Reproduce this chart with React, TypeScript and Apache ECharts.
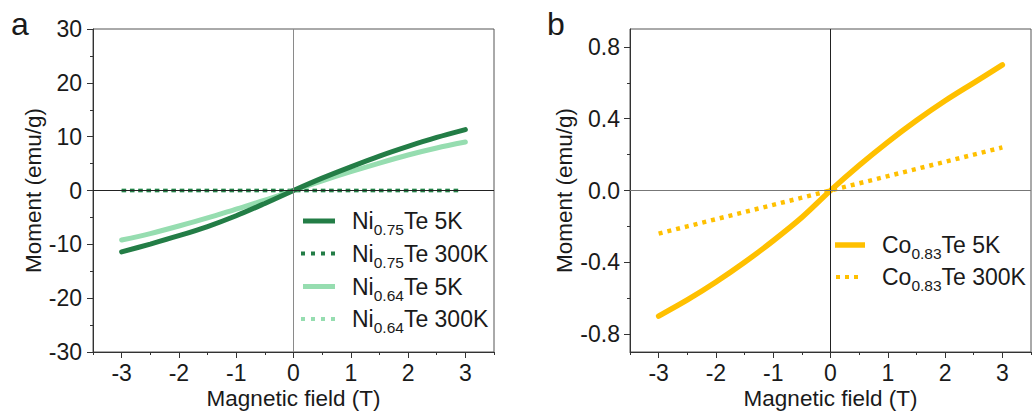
import React, { useEffect, useRef } from "react";
import * as echarts from "echarts";

const FONT = "'Liberation Sans', Arial, sans-serif";

// Magnetic field (T)
const fieldT = [-3, -2.5, -2, -1.5, -1, -0.5, 0, 0.5, 1, 1.5, 2, 2.5, 3];
const field300 = [-3, -2, -1, 0, 1, 2, 2.9];

// Panel a (emu/g)
const ni075_5K = [-11.4, -9.95, -8.4, -6.7, -4.7, -2.4, 0, 2.3, 4.4, 6.4, 8.2, 9.85, 11.3];
const ni064_5K = [-9.2, -8.0, -6.6, -5.1, -3.45, -1.8, 0, 1.8, 3.5, 5.1, 6.6, 7.9, 9.0];
const ni075_300K = [0, 0, 0, 0, 0, 0, 0];
const ni064_300K = [0, 0, 0, 0, 0, 0, 0];

// Panel b (emu/g)
const co083_5K = [-0.70, -0.61, -0.51, -0.40, -0.28, -0.15, 0, 0.14, 0.27, 0.39, 0.50, 0.60, 0.70];
const co083_300K = [-0.24, -0.20, -0.16, -0.12, -0.08, -0.04, 0, 0.04, 0.08, 0.12, 0.16, 0.20, 0.24];

// Tick values
const xMajor = [-3, -2, -1, 0, 1, 2, 3];
const yMajorB = [-0.8, -0.4, 0, 0.4, 0.8];
const yMinorB = [-0.6, -0.2, 0.2, 0.6];

const DARK = "#237d46";
const LIGHT = "#96ddb0";
const GOLD = "#ffc000";
const AX = "#333";
const TXT = "#1a1a1a";
const TICK_FS = 23;
const TITLE_FS = 22.5;

const zip = (xs: number[], ys: number[]) => xs.map((x, i) => [x, ys[i]]);

function xAxes(grid: number) {
  return [
    {
      gridIndex: grid,
      type: "value",
      position: "bottom",
      min: -3.5,
      max: 3.5,
      interval: 0.5,
      axisLine: { show: true, onZero: false, lineStyle: { color: AX, width: 1 } },
      axisTick: { show: true, length: 3, lineStyle: { color: AX } },
      axisLabel: { show: false },
      splitLine: { show: false },
      name: "Magnetic field (T)",
      nameLocation: "middle",
      nameGap: 35,
      nameTextStyle: { fontSize: TITLE_FS, color: TXT, fontFamily: FONT },
    },
    {
      gridIndex: grid,
      type: "value",
      position: "bottom",
      offset: 0,
      min: -3.5,
      max: 3.5,
      axisLine: { show: false, onZero: false },
      axisTick: { show: true, length: 6, customValues: xMajor, lineStyle: { color: AX } },
      axisLabel: { show: true, customValues: xMajor, fontSize: TICK_FS, color: TXT, margin: 9, fontFamily: FONT },
      splitLine: { show: false },
    },
  ];
}

function legendRow(x: number, y: number, color: string, dotted: boolean, width: number, sym: string, sub: string, rest: string, iconX: number, iconW: number, dash: number[]) {
  return [
    {
      type: "line",
      shape: { x1: iconX, y1: y, x2: iconX + iconW, y2: y },
      style: dotted
        ? { stroke: color, lineWidth: 4, lineDash: dash }
        : { stroke: color, lineWidth: width },
      silent: true,
    },
    {
      type: "text",
      x: x,
      y: y,
      silent: true,
      style: {
        text: `{m|${sym}}{s|${sub}}{m|${rest}}`,
        verticalAlign: "middle",
        align: "left",
        fill: TXT,
        rich: {
          m: { fontSize: 23, fontFamily: FONT, fill: TXT },
          s: { fontSize: 15.5, fontFamily: FONT, fill: TXT, padding: [17, 0, 0, 0] },
        },
      },
    },
  ];
}

export default function App() {
  const ref = useRef<HTMLDivElement>(null);
  useEffect(() => {
    if (!ref.current) return;
    const chart = echarts.init(ref.current, undefined, { renderer: "svg" });
    const option: any = {
      animation: false,
      backgroundColor: "#ffffff",
      textStyle: { fontFamily: FONT },
      grid: [
        { left: 93, top: 29, width: 401, height: 323, show: true, borderColor: "#555", borderWidth: 1, backgroundColor: "transparent" },
        { left: 630, top: 29, width: 401, height: 323, show: true, borderColor: "#555", borderWidth: 1, backgroundColor: "transparent" },
      ],
      xAxis: [...xAxes(0), ...xAxes(1)],
      yAxis: [
        {
          gridIndex: 0,
          type: "value",
          position: "left",
          min: -30,
          max: 30,
          interval: 10,
          axisLine: { show: true, onZero: false, lineStyle: { color: AX } },
          axisTick: { show: true, length: 6, lineStyle: { color: AX } },
          minorTick: { show: true, splitNumber: 2, length: 3, lineStyle: { color: AX } },
          axisLabel: { fontSize: TICK_FS, color: TXT, margin: 11, fontFamily: FONT },
          splitLine: { show: false },
          minorSplitLine: { show: false },
          name: "Moment (emu/g)",
          nameLocation: "middle",
          nameGap: 47,
          nameTextStyle: { fontSize: TITLE_FS, color: TXT, fontFamily: FONT },
        },
        {
          gridIndex: 1,
          type: "value",
          position: "left",
          min: -0.9,
          max: 0.9,
          axisLine: { show: true, onZero: false, lineStyle: { color: AX } },
          axisTick: { show: true, length: 6, customValues: yMajorB, lineStyle: { color: AX } },
          axisLabel: {
            customValues: yMajorB,
            fontSize: TICK_FS,
            color: TXT,
            margin: 10,
            fontFamily: FONT,
            formatter: (v: number) => v.toFixed(1),
          },
          splitLine: { show: false },
          name: "Moment (emu/g)",
          nameLocation: "middle",
          nameGap: 52,
          nameTextStyle: { fontSize: TITLE_FS, color: TXT, fontFamily: FONT },
        },
        {
          gridIndex: 1,
          type: "value",
          position: "left",
          offset: 0,
          min: -0.9,
          max: 0.9,
          axisLine: { show: false, onZero: false },
          axisTick: { show: true, length: 3, customValues: yMinorB, lineStyle: { color: AX } },
          axisLabel: { show: false },
          splitLine: { show: false },
        },
      ],
      series: [
        {
          name: "Ni0.64Te 300K",
          type: "line",
          xAxisIndex: 0,
          yAxisIndex: 0,
          data: zip(field300, ni064_300K),
          symbol: "none",
          lineStyle: { color: LIGHT, width: 3.5, type: [4.5, 3.8] },
          markLine: {
            silent: true,
            symbol: ["none", "none"],
            label: { show: false },
            emphasis: { disabled: true },
            data: [
              { xAxis: 0, lineStyle: { color: "#8a8a8a", width: 1, type: "solid" } },
              { yAxis: 0, lineStyle: { color: "#222", width: 1, type: "solid" } },
            ],
          },
        },
        {
          name: "Ni0.75Te 300K",
          type: "line",
          xAxisIndex: 0,
          yAxisIndex: 0,
          data: zip(field300, ni075_300K),
          symbol: "none",
          lineStyle: { color: DARK, width: 3.5, type: [4.5, 3.8] },
        },
        {
          name: "Ni0.64Te 5K",
          type: "line",
          xAxisIndex: 0,
          yAxisIndex: 0,
          data: zip(fieldT, ni064_5K),
          symbol: "none",
          smooth: 0.3,
          lineStyle: { color: LIGHT, width: 5, cap: "round" },
        },
        {
          name: "Ni0.75Te 5K",
          type: "line",
          xAxisIndex: 0,
          yAxisIndex: 0,
          data: zip(fieldT, ni075_5K),
          symbol: "none",
          smooth: 0.3,
          lineStyle: { color: DARK, width: 5, cap: "round" },
        },
        {
          name: "Co0.83Te 300K",
          type: "line",
          xAxisIndex: 2,
          yAxisIndex: 1,
          data: zip(fieldT, co083_300K),
          symbol: "none",
          lineStyle: { color: GOLD, width: 4.5, type: [4, 5] },
          markLine: {
            silent: true,
            symbol: ["none", "none"],
            label: { show: false },
            emphasis: { disabled: true },
            data: [
              { xAxis: 0, lineStyle: { color: "#222", width: 1, type: "solid" } },
              { yAxis: 0, lineStyle: { color: "#777", width: 1, type: "solid" } },
            ],
          },
        },
        {
          name: "Co0.83Te 5K",
          type: "line",
          xAxisIndex: 2,
          yAxisIndex: 1,
          data: zip(fieldT, co083_5K),
          symbol: "none",
          smooth: 0.3,
          lineStyle: { color: GOLD, width: 5.5, cap: "round" },
        },
      ],
      graphic: [
        { type: "text", x: 11, y: 24, silent: true, style: { text: "a", fontSize: 32, fontFamily: FONT, fill: TXT, verticalAlign: "middle" } },
        { type: "text", x: 547, y: 24, silent: true, style: { text: "b", fontSize: 32, fontFamily: FONT, fill: TXT, verticalAlign: "middle" } },
        ...legendRow(352, 221, DARK, false, 5, "Ni", "0.75", "Te 5K", 303, 32, []),
        ...legendRow(352, 253.5, DARK, true, 4, "Ni", "0.75", "Te 300K", 301, 34, [4, 6]),
        ...legendRow(352, 286.5, LIGHT, false, 5, "Ni", "0.64", "Te 5K", 303, 32, []),
        ...legendRow(352, 319, LIGHT, true, 4, "Ni", "0.64", "Te 300K", 301, 34, [4, 6]),
        ...legendRow(882, 245, GOLD, false, 5.5, "Co", "0.83", "Te 5K", 835, 30, []),
        ...legendRow(882, 277, GOLD, true, 4, "Co", "0.83", "Te 300K", 836, 23, [4, 5]),
      ],
    };
    chart.setOption(option);
    return () => chart.dispose();
  }, []);
  return <div ref={ref} style={{ position: "absolute", left: 0, top: 0, width: 1032, height: 416 }} />;
}
